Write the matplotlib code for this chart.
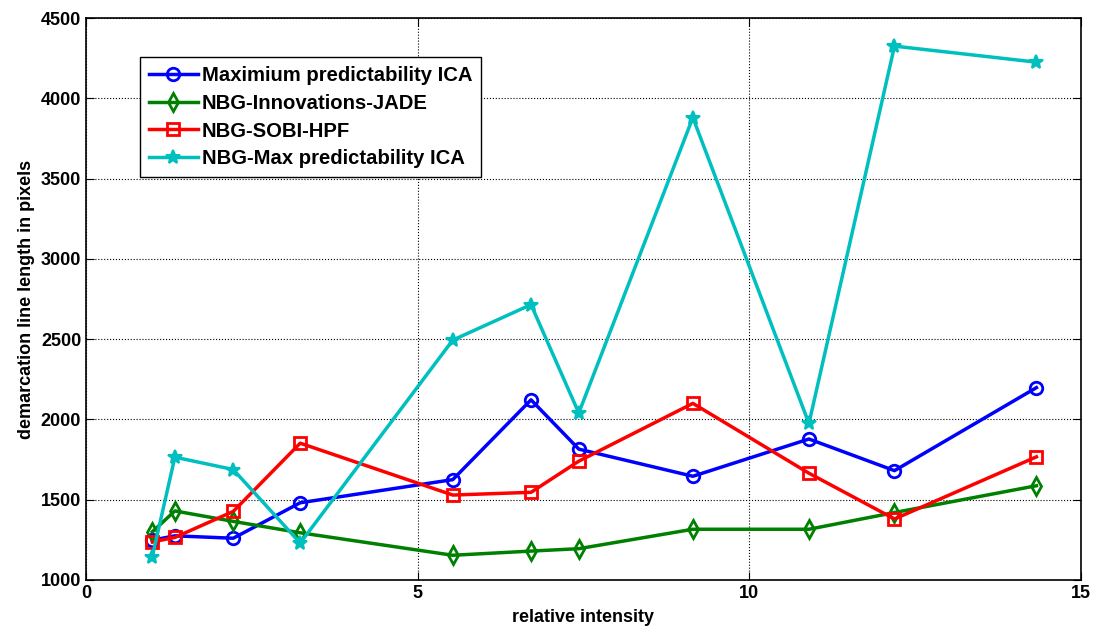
import numpy as np
import matplotlib
matplotlib.use('Agg')
import matplotlib.pyplot as plt

plt.rcParams['font.family'] = ['Liberation Sans', 'DejaVu Sans']
plt.rcParams['font.weight'] = 'bold'

# relative intensity values (shared by all four series)
intensity = [1.0, 1.34, 2.22, 3.23, 5.53, 6.71, 7.43, 9.15, 10.9, 12.19, 14.33]

max_pred_ica = [1248, 1275, 1260, 1481, 1625, 2122, 1815, 1646, 1878, 1681, 2198]
nbg_jade = [1300, 1430, 1365, 1294, 1154, 1180, 1195, 1316, 1316, 1420, 1587]
nbg_sobi = [1237, 1265, 1427, 1852, 1529, 1546, 1740, 2100, 1665, 1380, 1767]
nbg_max_ica = [1146, 1765, 1688, 1230, 2494, 2715, 2040, 3880, 1975, 4325, 4225]

labels = ['Maximium predictability ICA', 'NBG-Innovations-JADE',
          'NBG-SOBI-HPF', 'NBG-Max predictability ICA']

fig = plt.figure(figsize=(10.94, 6.32), dpi=100)
ax = fig.add_axes([0.0786, 0.0823, 0.9094, 0.8892])

ax.plot(intensity, max_pred_ica, '-o', color='#0000ff', lw=2.5, ms=9,
        mfc='none', mew=2, label=labels[0])
ax.plot(intensity, nbg_jade, '-d', color='#008000', lw=2.5, ms=9,
        mfc='none', mew=2, label=labels[1])
ax.plot(intensity, nbg_sobi, '-s', color='#ff0000', lw=2.5, ms=9,
        mfc='none', mew=2, label=labels[2])
ax.plot(intensity, nbg_max_ica, '-*', color='#00bfbf', lw=2.5, ms=10,
        mew=1.5, label=labels[3])

ax.set_xlim(0, 15)
ax.set_ylim(1000, 4500)
ax.set_xticks([0, 5, 10, 15])
ax.set_yticks(np.arange(1000, 4501, 500))
ax.grid(True, color='black', linestyle=':', linewidth=0.8)
ax.tick_params(direction='in', labelsize=13, length=6, top=True, right=True,
               labeltop=False, labelright=False)
for sp in ax.spines.values():
    sp.set_linewidth(1.2)

ax.set_xlabel('relative intensity', fontsize=13, fontweight='bold', labelpad=5)
ax.set_ylabel('demarcation line length in pixels', fontsize=13, fontweight='bold')

leg = ax.legend(loc='upper left', bbox_to_anchor=(0.054, 0.93), borderaxespad=0,
                fancybox=False, framealpha=1, edgecolor='black',
                prop={'weight': 'bold', 'size': 14.6}, handlelength=2.4,
                labelspacing=0.42, handletextpad=0.2, borderpad=0.45)
leg.get_frame().set_linewidth(1.0)

fig.savefig('out.png', dpi=100)
